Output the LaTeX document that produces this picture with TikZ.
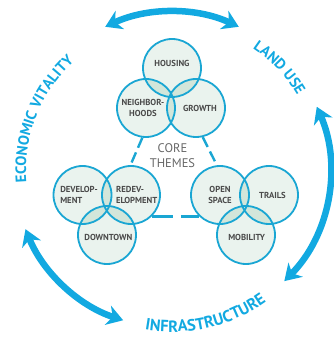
\documentclass[tikz,border=0pt]{standalone}
\usepackage{fontspec}
\newfontfamily\ptsans{PT Sans}
\usetikzlibrary{
		calc,
		positioning,
		arrows.meta,
		backgrounds,
		decorations.text
	}
\definecolor{ringblue}{HTML}{12A9E1}
\definecolor{circblue}{HTML}{1AA6D3}
\definecolor{circfill}{HTML}{EAF3EE}
\definecolor{lensfill}{HTML}{D2E6DA}
\definecolor{labelgrey}{HTML}{4A4A4A}
\definecolor{coregrey}{HTML}{666666}
\tikzset{
		>=stealth,
		theme/.style={circle, draw=circblue, line width=1.8pt, minimum size=58pt, inner sep=0pt},
		lbl/.style={font=\ptsans\bfseries\fontsize{8.7}{10.5}\selectfont, text=labelgrey, inner sep=0pt},
		link/.style={draw=circblue, line width=2.4pt, dash pattern=#1},
		ring/.style={draw=ringblue, line width=6.5pt, arrows={Stealth[length=16pt,width=20pt,inset=5pt]-Stealth[length=16pt,width=20pt,inset=5pt]}},
		ringtext/.style 2 args={decorate, decoration={text along path, text align=center, text color=ringblue, text={|\ptsans\bfseries\fontsize{#1}{#1}\selectfont|#2}}}
	}

\begin{document}
\begin{tikzpicture}[x=1pt, y=1pt] % (origin = centre of the outer ring, 1 unit = 1 pixel of the sketch)
	\useasboundingbox (-172,-167) rectangle (162,170);
	% the three clusters of themes
	\node[theme, label={[lbl, yshift=4.7pt]center:HOUSING}] (housing) at (0,102) {};
	\node[theme, label={[lbl, align=center, xshift=-3pt]center:NEIGHBOR-\\HOODS}] (neigh) at (-26,62) {};
	\node[theme, label={[lbl, xshift=4pt]center:GROWTH}] (growth) at (24,62) {};
	\node[theme, label={[lbl, align=left, xshift=-3.5pt]center:DEVELOP-\\MENT}] (devel) at (-89.5,-25) {};
	\node[theme, label={[lbl, align=left, xshift=5.7pt]center:REDEV-\\ELOPMENT}] (redev) at (-41,-25) {};
	\node[theme, label={[lbl, xshift=1.3pt, yshift=-2.7pt]center:DOWNTOWN}] (downtown) at (-65,-65) {};
	\node[theme, label={[lbl, align=center]center:OPEN\\SPACE}] (open) at (48,-25) {};
	\node[theme, label={[lbl, xshift=3.5pt]center:TRAILS}] (trails) at (97,-25) {};
	\node[theme, label={[lbl, xshift=0.7pt, yshift=-2.3pt]center:MOBILITY}] (mobility) at (74,-65) {};
	% fills and overlaps behind the rims
	\begin{scope}[on background layer]
		\foreach \c in {housing,neigh,growth,devel,redev,downtown,open,trails,mobility}
			\fill[circfill] (\c.center) circle (29);
		\foreach \a/\b in {housing/neigh,housing/growth,neigh/growth,devel/redev,devel/downtown,redev/downtown,open/trails,open/mobility,trails/mobility}{
			\begin{scope}
				\clip (\a.center) circle (29);
				\fill[lensfill] (\b.center) circle (29);
			\end{scope}
		}
	\end{scope}
	\node[font=\ptsans\fontsize{12.5}{15}\selectfont, text=coregrey, align=center] (core) at (0.5,14.5) {CORE\\THEMES};
	% broken triangle between the clusters
	\draw[link={on 11pt off 5pt}] (neigh.263) -- (redev.91);
	\draw[link={on 11pt off 5pt}] (growth.283) -- (open.96);
	\draw[link={on 21pt off 8pt}] (redev.-46) -- (open.226);
	% outer ring
	\draw[ring] (65:158) arc[start angle=65, end angle=115, radius=158];
	\draw[ring] (23.6:158) arc[start angle=23.6, end angle=-44.7, radius=158];
	\draw[ring] (202:158) arc[start angle=202, end angle=252, radius=158];
	\path[ringtext={15}{ECONOMIC VITALITY}] (193:146) arc[start angle=193, end angle=124, radius=146];
	\path[ringtext={15}{LAND USE}] (63:146) arc[start angle=63, end angle=24.3, radius=146];
	\path[ringtext={16.3}{INFRASTRUCTURE}] (253:162) arc[start angle=253, end angle=313, radius=162];
\end{tikzpicture}
\end{document}
